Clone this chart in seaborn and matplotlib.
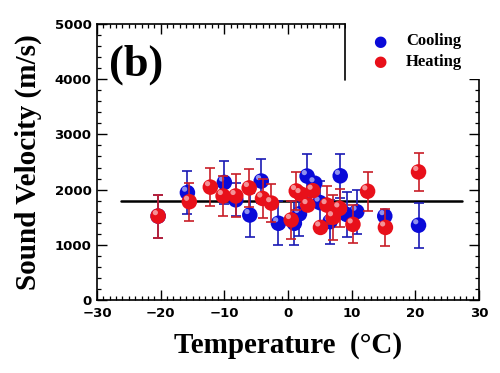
import numpy as np
import pandas as pd
import matplotlib
matplotlib.use("Agg")
import matplotlib.pyplot as plt
import matplotlib.transforms as mtransforms
from matplotlib.ticker import MultipleLocator
import seaborn as sns

# ---------------- data ----------------
cool_temp = [-20.4, -15.8, -10.0, -8.2, -6.0, -4.2, -1.5, 1.0, 1.8, 3.0, 4.2, 5.0, 6.6, 8.2, 9.2, 10.8, 15.2, 20.5]
cool_vel  = [1520, 1945, 2130, 1815, 1540, 2155, 1390, 1390, 1560, 2245, 2115, 1765, 1420, 2250, 1550, 1600, 1520, 1355]
cool_err  = [390, 390, 395, 300, 400, 395, 395, 395, 405, 395, np.nan, 390, 400, 395, 400, 400, np.nan, 405]

heat_temp = [-20.4, -15.5, -12.2, -10.2, -8.2, -6.1, -4.0, -2.6, 0.5, 1.3, 2.0, 3.1, 3.9, 5.1, 6.1, 7.1, 8.1, 10.2, 12.5, 15.3, 20.5]
heat_vel  = [1520, 1780, 2045, 1885, 1885, 2030, 1840, 1755, 1450, 1975, 1920, 1720, 1980, 1315, 1720, 1500, 1660, 1370, 1970, 1315, 2320]
heat_err  = [390, 345, 345, 360, 390, 340, 360, 345, 345, 340, np.nan, np.nan, np.nan, np.nan, 350, 410, 345, 345, 350, 340, 345]

mean_level = 1800
mean_span = [-26.3, 27.3]

series_names = ["Cooling", "Heating"]
x_ticks = [-30, -20, -10, 0, 10, 20, 30]
y_ticks = [0, 1000, 2000, 3000, 4000, 5000]

# ---------------- figure ----------------
sns.set_theme(style="ticks")
plt.rcParams["font.family"] = ["DejaVu Sans"]
plt.rcParams["text.color"] = "black"
plt.rcParams["axes.labelcolor"] = "black"
plt.rcParams["xtick.color"] = "black"
plt.rcParams["ytick.color"] = "black"
plt.rcParams["xtick.labelcolor"] = "black"
plt.rcParams["ytick.labelcolor"] = "black"

fig = plt.figure(figsize=(5.0, 3.73), dpi=100)
ax = fig.add_axes([0.194, 0.1957, 0.764, 0.74])
ax.set_facecolor("white")

cool_df = pd.DataFrame({"T": cool_temp, "V": cool_vel, "E": cool_err})
heat_df = pd.DataFrame({"T": heat_temp, "V": heat_vel, "E": heat_err})

blue = "#0a0ad8"
red = "#e8101a"
blue_bar = "#1a1ab4"
red_bar = "#c81e28"

# mean line
ax.plot(mean_span, [mean_level, mean_level], color="black", lw=1.8, zorder=1)

def draw_series(df, face, barcol, z):
    ax.errorbar(df["T"], df["V"], yerr=df["E"], fmt="none", ecolor=barcol,
                elinewidth=1.2, capsize=3.5, capthick=1.2, zorder=z)
    sns.scatterplot(data=df, x="T", y="V", ax=ax, color=face, s=125,
                    edgecolor="none", linewidth=0, zorder=z + 0.5, legend=False)
    hl = mtransforms.offset_copy(ax.transData, fig=fig, x=-2.0, y=2.5, units="points")
    ax.scatter(df["T"], df["V"], s=14, color="white", alpha=0.55,
               edgecolor="none", transform=hl, zorder=z + 0.6)

draw_series(cool_df, blue, blue_bar, 2)
draw_series(heat_df, red, red_bar, 3)

ax.set_xlim(-30, 30)
ax.set_ylim(0, 5000)
ax.set_xticks(x_ticks)
ax.set_yticks(y_ticks)
ax.set_xticklabels([str(v).replace("-", "\u2212") for v in x_ticks])
ax.xaxis.set_minor_locator(MultipleLocator(1))
ax.yaxis.set_minor_locator(MultipleLocator(200))
ax.tick_params(which="both", direction="in", top=True, right=True, color="black")
ax.tick_params(which="major", length=7, width=1.0, labelsize=9.5, labelcolor="black")
ax.tick_params(axis="x", which="major", pad=5)
ax.tick_params(axis="y", which="major", pad=4)
ax.tick_params(which="minor", length=3, width=0.9)
for lab in ax.get_xticklabels() + ax.get_yticklabels():
    lab.set_fontweight("bold")

for sp in ax.spines.values():
    sp.set_color("black")
    sp.set_linewidth(1.2)

# legend box occluding the top-right corner of the frame
corner_x = 8.9
corner_y = 3990
ax.spines["top"].set_bounds(-30, corner_x)
ax.spines["right"].set_bounds(0, corner_y)
ax.plot([corner_x, corner_x], [corner_y, 5000], color="black", lw=1.2, zorder=5, clip_on=False)
ax.add_patch(plt.Rectangle((corner_x + 0.15, corner_y + 20), 30, 1500, facecolor="white",
                           edgecolor="none", zorder=6, clip_on=False))

# legend
serif = ["Liberation Serif", "DejaVu Serif"]
for i, (name, col) in enumerate(zip(series_names, [blue, red])):
    yy = 0.890 - i * 0.056
    fig.text(0.760, yy, "\u25cf", color=col, fontsize=11, ha="center", va="center", zorder=10)
    fig.text(0.812, yy, name, family=serif, fontweight="bold", fontsize=12,
             color="black", ha="left", va="center", zorder=10)

# panel label
fig.text(0.218, 0.826, "(b)", family=serif, fontweight="bold", fontsize=32,
         color="black", ha="left", va="center")

ax.set_xlabel("Temperature  (\u00b0C)", family=serif, fontweight="bold", fontsize=21,
              labelpad=9, color="black")
ax.set_ylabel("Sound Velocity (m/s)", family=serif, fontweight="bold", fontsize=21,
              labelpad=9, color="black")

fig.savefig("out.png", dpi=100, facecolor="white")
